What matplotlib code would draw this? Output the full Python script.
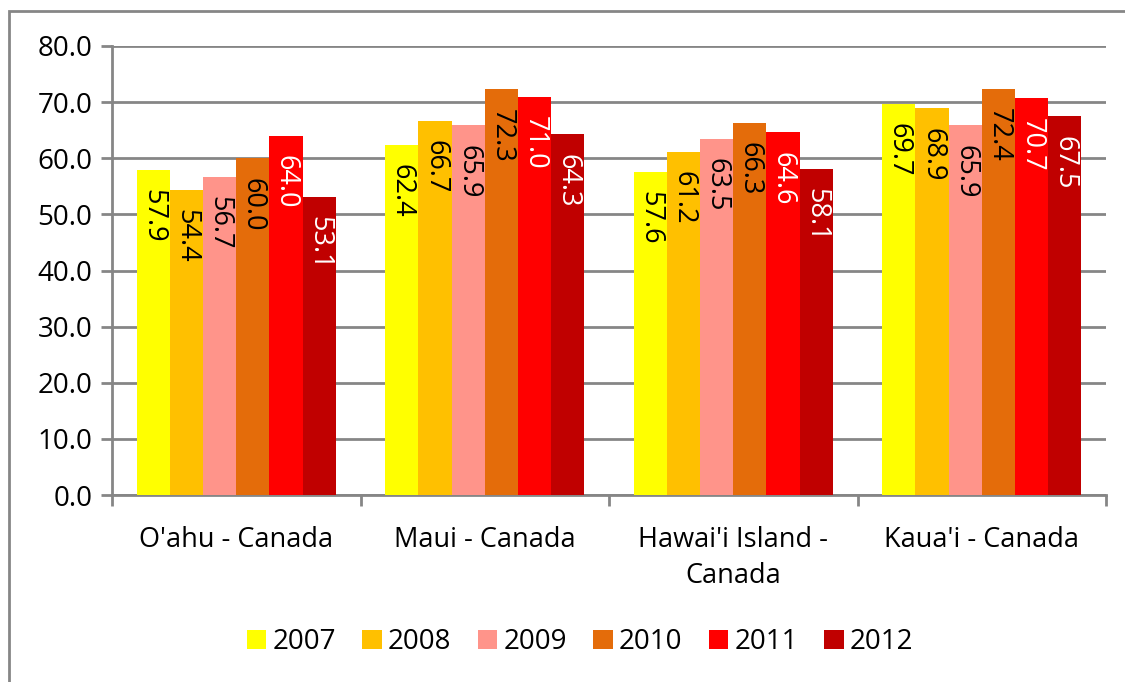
import matplotlib
matplotlib.use("Agg")
import matplotlib.pyplot as plt
import numpy as np
from matplotlib.patches import Rectangle

categories = ["O'ahu - Canada", "Maui - Canada", "Hawai'i Island -\nCanada", "Kaua'i - Canada"]
years = ["2007", "2008", "2009", "2010", "2011", "2012"]
values = {
    "2007": [57.9, 62.4, 57.6, 69.7],
    "2008": [54.4, 66.7, 61.2, 68.9],
    "2009": [56.7, 65.9, 63.5, 65.9],
    "2010": [60.0, 72.3, 66.3, 72.4],
    "2011": [64.0, 71.0, 64.6, 70.7],
    "2012": [53.1, 64.3, 58.1, 67.5],
}
colors = ["#FFFF00", "#FFC000", "#FF948A", "#E46C0A", "#FF0000", "#C00000"]
label_colors = ["black", "black", "black", "black", "white", "white"]

plt.rcParams['font.family'] = ['Open Sans', 'DejaVu Sans']
fs = 20

fig = plt.figure(figsize=(11.25, 6.82), dpi=100)
ax = fig.add_axes([112/1125, 1-495/682, (1106-112)/1125, (495-46)/682])

n = len(years)
bw = 1/7.5
x = np.arange(len(categories))
for i, y in enumerate(years):
    pos = x - 3*bw + bw/2 + i*bw
    bars = ax.bar(pos, values[y], width=bw, color=colors[i], label=y, zorder=3)
    for b, v in zip(bars, values[y]):
        ax.annotate(f"{v:.1f}", (b.get_x()+b.get_width()/2, v), xytext=(0, -14),
                    textcoords="offset points", rotation=-90, ha="center", va="top",
                    color=label_colors[i], fontsize=19.5, zorder=4)

ax.set_ylim(0, 80)
ax.set_xlim(-0.5, len(categories)-0.5)
ax.set_yticks(np.arange(0, 81, 10))
ax.set_yticklabels([f"{t:.1f}" for t in np.arange(0, 81, 10)], fontsize=fs)
ax.yaxis.grid(True, color="#868686", linewidth=2, zorder=0)
ax.set_axisbelow(True)
ax.set_xticks(np.arange(-0.5, len(categories)), minor=False)
ax.set_xticklabels([])
ax.set_xticks(x, minor=True)
ax.set_xticklabels(categories, minor=True, fontsize=19.5, linespacing=1.4)
ax.tick_params(axis="x", which="minor", length=0, pad=22)
ax.tick_params(axis="x", which="major", length=8, width=2, color="#868686")
ax.tick_params(axis="y", length=8, width=2, color="#868686", pad=6)
for s in ["top", "right"]:
    ax.spines[s].set_visible(False)
for s in ["left", "bottom"]:
    ax.spines[s].set_color("#868686")
    ax.spines[s].set_linewidth(2)

ax.legend(loc="center", bbox_to_anchor=(580/1125, 1-642/682), bbox_transform=fig.transFigure,
          ncol=6, frameon=False, fontsize=fs, handlelength=0.7, handleheight=0.7,
          handletextpad=0.22, columnspacing=0.95)

fig.patches.append(Rectangle((9/1125, -0.1), 1.2, 1-11/682+0.1, transform=fig.transFigure,
                             fill=False, edgecolor="#868686", linewidth=2))

fig.savefig("out.png", dpi=100)
